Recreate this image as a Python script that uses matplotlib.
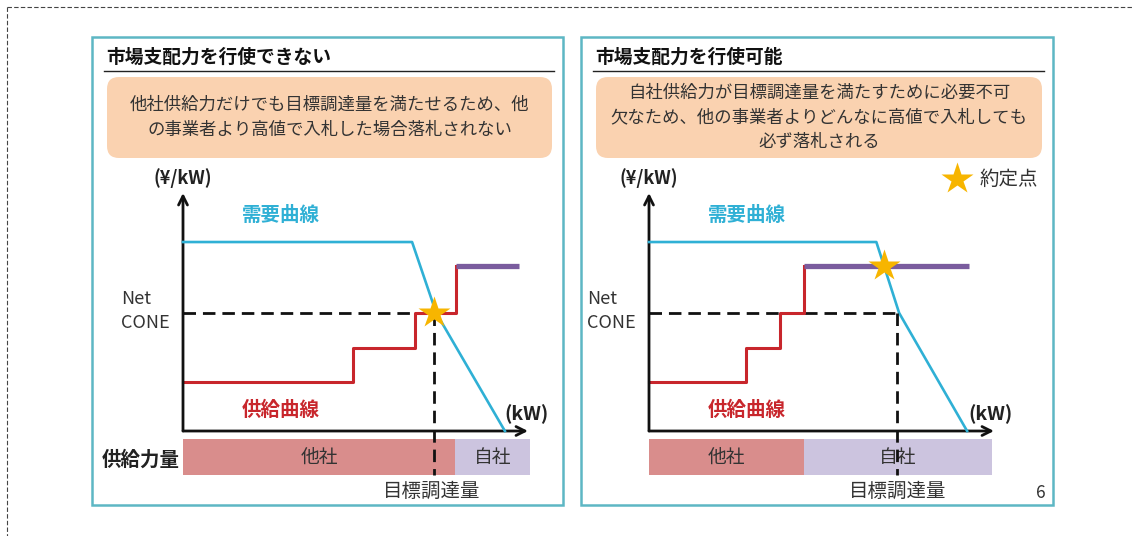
import numpy as np
import matplotlib.pyplot as plt
from matplotlib.patches import Rectangle, FancyBboxPatch

plt.rcParams['font.family'] = ['Noto Sans CJK JP', 'DejaVu Sans']

W, H = 1134, 536

# chart values (x: kW, 0-100 ; y: yen/kW, 0-100)
net_cone = 49.6
supply_levels = [20.6, 34.9, 49.6, 69.3]
bar_labels = ['他社', '自社']

left_demand_x = [0, 66.4, 73.4, 93.3]
left_demand_y = [79.4, 79.4, 49.6, 0]
left_step_x = [0, 49.3, 67.2, 79.1]
left_own_end = 97.4
left_target = 72.8
left_star = (72.8, 49.6)
left_bar = [78.8, 21.8]

right_demand_x = [0, 65.9, 72.5, 92.2]
right_demand_y = [79.4, 79.4, 49.6, 0]
right_step_x = [0, 28.0, 37.9, 44.8]
right_own_end = 92.8
right_target = 72.0
right_star = (68.2, 69.3)
right_bar = [44.8, 54.6]

left_title = '市場支配力を行使できない'
left_note = ['他社供給力だけでも目標調達量を満たせるため、他',
             'の事業者より高値で入札した場合落札されない']
right_title = '市場支配力を行使可能'
right_note = ['自社供給力が目標調達量を満たすために必要不可',
              '欠なため、他の事業者よりどんなに高値で入札しても',
              '必ず落札される']

TEAL = '#5db7c4'
CYAN = '#2fb0d5'
RED = '#c8262c'
PURPLE = '#7a5c9e'
PINK = '#d98d8c'
LAV = '#ccc4df'
ORANGE = '#fad2b0'
GOLD = '#f7b500'
TXT = '#333333'

fig = plt.figure(figsize=(W / 100, H / 100), dpi=100)
bg = fig.add_axes([0, 0, 1, 1])
bg.set_xlim(0, W)
bg.set_ylim(H, 0)
bg.axis('off')

# outer dashed frame
bg.plot([7, W], [7, 7], color='#444', lw=0.8, ls=(0, (4, 2)))
bg.plot([7, 7], [7, H], color='#444', lw=0.8, ls=(0, (4, 2)))


def panel_frame(x0, x1, title, note):
    bg.add_patch(Rectangle((x0, 37), x1 - x0, 468, fill=False,
                           edgecolor=TEAL, lw=1.8))
    bg.text(x0 + 14, 57, title, fontsize=13.5, fontweight='bold',
            ha='left', va='center', color='#111')
    bg.plot([x0 + 12, x1 - 9], [71, 71], color='#222', lw=1)
    bx0, bx1 = x0 + 15, x1 - 11
    bg.add_patch(FancyBboxPatch((bx0, 77), bx1 - bx0, 81,
                                boxstyle='round,pad=0,rounding_size=12',
                                facecolor=ORANGE, edgecolor='none'))
    n = len(note)
    cy = 117.5
    for i, line in enumerate(note):
        bg.text((bx0 + bx1) / 2, cy + (i - (n - 1) / 2) * 25, line,
                fontsize=12.5, ha='center', va='center', color=TXT)


def chart(cx0, demand_x, demand_y, step_x, own_end, target, star, bar):
    # axes: x 0-100 -> 345 px from cx0, y 0 at px 431, 100 at px 193
    top_px, bot_px = 193, 482
    ymin = -(bot_px - 431) / 2.38
    ax = fig.add_axes([cx0 / W, 1 - bot_px / H, 345 / W, (bot_px - top_px) / H])
    ax.set_xlim(0, 100)
    ax.set_ylim(ymin, 100)
    ax.axis('off')

    ax.annotate('', xy=(100, 0), xytext=(0, 0),
                arrowprops=dict(arrowstyle='->', lw=2, color='#111',
                                mutation_scale=16, shrinkA=0, shrinkB=0))
    ax.annotate('', xy=(0, 100), xytext=(0, 0),
                arrowprops=dict(arrowstyle='->', lw=2, color='#111',
                                mutation_scale=16, shrinkA=0, shrinkB=0))

    # supply bar
    ax.barh(-10.95, bar[0], left=0, height=15.1, color=PINK, clip_on=False)
    ax.barh(-10.95, bar[1], left=bar[0], height=15.1, color=LAV, clip_on=False)
    ax.text(bar[0] / 2, -10.95, bar_labels[0], ha='center', va='center',
            fontsize=13.5, color=TXT)
    ax.text(bar[0] + bar[1] / 2, -10.95, bar_labels[1], ha='center',
            va='center', fontsize=13.5, color=TXT)

    # dashed guides
    ax.plot([0, target], [net_cone, net_cone], color='#111', lw=2,
            dashes=(4.5, 2.5), clip_on=False)
    ax.plot([target, target], [net_cone, -18.5], color='#111', lw=2,
            dashes=(4.5, 2.5), clip_on=False, zorder=4)

    # supply curve
    ax.step(step_x, supply_levels, where='post', color=RED, lw=2.2,
            clip_on=False)
    ax.plot([step_x[-1], own_end], [supply_levels[-1], supply_levels[-1]],
            color=PURPLE, lw=3.8, solid_capstyle='butt', clip_on=False)

    # demand curve
    ax.plot(demand_x, demand_y, color=CYAN, lw=1.9, clip_on=False, zorder=3)

    ax.plot(star[0], star[1], marker='*', ms=24, color=GOLD, mec='none',
            clip_on=False, zorder=5)
    return ax


panel_frame(92, 563, left_title, left_note)
panel_frame(581, 1053, right_title, right_note)

chart(183, left_demand_x, left_demand_y, left_step_x, left_own_end,
      left_target, left_star, left_bar)
chart(649, right_demand_x, right_demand_y, right_step_x, right_own_end,
      right_target, right_star, right_bar)

# chart annotations
for ox in (183, 649):
    bg.text(ox, 178, '(¥/kW)', fontsize=13, fontweight='bold',
            ha='center', va='center', color='#222')
    bg.text(ox + 98, 215, '需要曲線', fontsize=14, fontweight='bold',
            ha='center', va='center', color=CYAN)
    bg.text(ox + 98, 410, '供給曲線', fontsize=14, fontweight='bold',
            ha='center', va='center', color=RED)
    bg.text(ox - 62, 299, 'Net', fontsize=13, ha='left', va='center',
            color=TXT)
    bg.text(ox - 62, 323, 'CONE', fontsize=13, ha='left', va='center',
            color=TXT)

bg.text(527, 414, '(kW)', fontsize=14, fontweight='bold', ha='center',
        va='center', color='#222')
bg.text(990, 414, '(kW)', fontsize=14, fontweight='bold', ha='center',
        va='center', color='#222')
bg.text(141, 460, '供給力量', fontsize=14, fontweight='bold', ha='center',
        va='center', color='#222')
bg.text(432, 491, '目標調達量', fontsize=14, ha='center', va='center',
        color=TXT)
bg.text(898, 491, '目標調達量', fontsize=14, ha='center', va='center',
        color=TXT)

# legend
bg.plot(957, 179, marker='*', ms=24, color=GOLD, mec='none')
bg.text(980, 179, '約定点', fontsize=14, ha='left', va='center', color=TXT)
bg.text(1041, 493, '6', fontsize=12.5, ha='center', va='center', color=TXT)

fig.savefig('out.png', dpi=100)
